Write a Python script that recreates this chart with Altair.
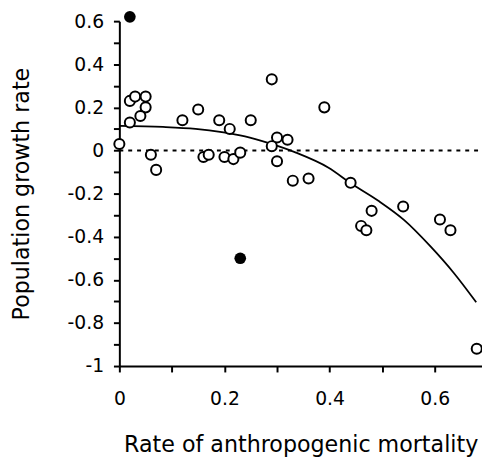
import altair as alt
import pandas as pd

# Open circles
open_x = [0.00, 0.02, 0.02, 0.03, 0.05, 0.05, 0.04, 0.06, 0.07, 0.12, 0.15, 0.16, 0.17,
          0.19, 0.21, 0.20, 0.217, 0.23, 0.25, 0.29, 0.30, 0.32, 0.29, 0.30, 0.33, 0.36,
          0.39, 0.44, 0.48, 0.54, 0.46, 0.47, 0.61, 0.63, 0.68]
open_y = [0.03, 0.13, 0.23, 0.25, 0.25, 0.20, 0.16, -0.02, -0.09, 0.14, 0.19, -0.03, -0.02,
          0.14, 0.10, -0.03, -0.04, -0.01, 0.14, 0.33, 0.06, 0.05, 0.02, -0.05, -0.14, -0.13,
          0.20, -0.15, -0.28, -0.26, -0.35, -0.37, -0.32, -0.37, -0.92]

# Filled circles
fill_x = [0.02, 0.23]
fill_y = [0.62, -0.50]

# Fitted curve
curve_x = [0.0, 0.083, 0.145, 0.195, 0.239, 0.283, 0.336, 0.398, 0.441, 0.492, 0.542,
           0.592, 0.636, 0.679]
curve_y = [0.114, 0.109, 0.100, 0.085, 0.065, 0.035, -0.010, -0.080, -0.153, -0.232,
           -0.323, -0.445, -0.567, -0.704]

x_ticks = [0.0, 0.1, 0.2, 0.3, 0.4, 0.5, 0.6]
y_ticks = [-1.0, -0.9, -0.8, -0.7, -0.6, -0.5, -0.4, -0.3, -0.2, -0.1, 0.0,
           0.1, 0.2, 0.3, 0.4, 0.5, 0.6]

open_df = pd.DataFrame({"x": open_x, "y": open_y})
fill_df = pd.DataFrame({"x": fill_x, "y": fill_y})
curve_df = pd.DataFrame({"x": curve_x, "y": curve_y})
zero_df = pd.DataFrame({"x": [0.0, 0.69], "y": [0.0, 0.0]})

FONT = "DejaVu Sans"
label_expr = "abs(round(datum.value*10)) % 2 == 0 ? '' + datum.value : ''"

xscale = alt.Scale(domain=[0, 0.69], nice=False, zero=False)
yscale = alt.Scale(domain=[-1, 0.6], nice=False, zero=False)

xenc = alt.X("x:Q", scale=xscale,
             axis=alt.Axis(values=x_ticks, labelExpr=label_expr,
                           title="Rate of anthropogenic mortality",
                           titleY=87, titleBaseline="alphabetic",
                           labelPadding=18))
yenc = alt.Y("y:Q", scale=yscale,
             axis=alt.Axis(values=y_ticks, labelExpr=label_expr,
                           title="Population growth rate",
                           titleX=-92, titleY=175, titleBaseline="alphabetic",
                           titleAlign="center", labelPadding=10))

zero_line = alt.Chart(zero_df).mark_line(color="black", strokeWidth=2,
                                         strokeDash=[4, 5]).encode(x=xenc, y=yenc)
curve = alt.Chart(curve_df).mark_line(color="black", strokeWidth=1.8,
                                      interpolate="monotone").encode(x=xenc, y=yenc)
opens = alt.Chart(open_df).mark_point(shape="circle", filled=True, fill="white",
                                      stroke="black", strokeWidth=2, size=105,
                                      opacity=1).encode(x=xenc, y=yenc)
fills = alt.Chart(fill_df).mark_point(shape="circle", filled=True, color="black",
                                      size=140, opacity=1).encode(x=xenc, y=yenc)

chart = alt.layer(zero_line, curve, opens, fills).properties(
    width=368, height=350,
    autosize=alt.AutoSizeParams(type="none"),
    padding={"left": 113, "top": 10, "right": 0, "bottom": 92},
).configure_view(stroke=None).configure_axis(
    grid=False,
    domainColor="black", domainWidth=2,
    tickColor="black", tickWidth=2, tickSize=6,
    labelColor="black", labelFont=FONT, labelFontSize=19,
    titleColor="black", titleFont=FONT, titleFontSize=22.5, titleFontWeight="normal",
    labelOverlap=False, labelFlush=False,
)

chart.save("out.html", embed_options={"renderer": "svg", "actions": False})
